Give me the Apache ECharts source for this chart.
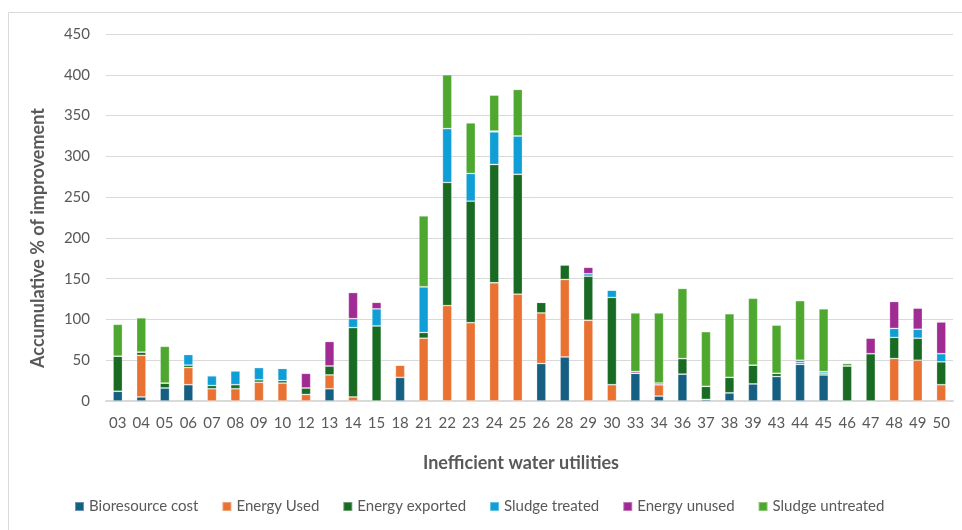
<!DOCTYPE html>
<html>
<head>
<meta charset="utf-8">
<script src="https://cdn.jsdelivr.net/npm/echarts@6/dist/echarts.min.js"></script>
<style>html,body{margin:0;padding:0;background:#fff}#c{width:962px;height:530px}</style>
</head>
<body>
<div id="c"></div>
<script>
var categories = ['03','04','05','06','07','08','09','10','12','13','14','15','18','21','22','23','24','25','26','28','29','30','33','34','36','37','38','39','43','44','45','46','47','48','49','50'];
var bioresourceCost = [12,5,16,20,0,0,0,0,0,15,0,0,29,0,0,0,0,0,46,54,0,0,34,6,33,2,10,21,30,45,32,0,0,0,0,0];
var energyUsed      = [0,51,0,21,15,15,23,22,8,17,5,0,15,77,117,96,145,131,62,95,99,20,0,14,0,0,0,0,0,0,0,0,0,52,50,20];
var energyExported  = [43,4,6,3,4,5,3,3,8,11,85,92,0,7,151,149,145,147,13,18,54,107,0,0,19,16,19,23,4,2,2,43,58,26,27,28];
var sludgeTreated   = [0,0,0,13,12,17,15,15,0,0,11,21,0,56,66,34,40,47,0,0,3,9,0,0,0,0,0,0,0,3,2,0,0,11,11,10];
var energyUnused    = [0,0,0,0,0,0,0,0,18,30,32,8,1,0,0,0,1,0,0,0,8,0,2,2,0,0,0,0,0,0,0,0,19,33,26,39];
var sludgeUntreated = [39,42,45,0,0,0,0,0,0,0,0,0,0,87,66,62,44,57,0,0,0,0,72,86,86,67,78,82,59,73,77,3,1,0,0,0];
var yTicks = {min:0, max:450, interval:50};

var FONT = 'Lato, "Open Sans", sans-serif';
var names = ['Bioresource cost','Energy Used','Energy exported','Sludge treated','Energy unused','Sludge untreated'];
var colors = ['#156082','#E97132','#196B24','#0F9ED5','#A02B93','#4EA72E'];
var datas = [bioresourceCost, energyUsed, energyExported, sludgeTreated, energyUnused, sludgeUntreated];

var chart = echarts.init(document.getElementById('c'), null, {renderer:'canvas'});
chart.setOption({
  animation:false,
  color: colors,
  grid:{left:106, right:9, top:34, bottom:129, containLabel:false},
  legend:{
    left:74, top:499, padding:0, itemWidth:9, itemHeight:9, itemGap:23, icon:'rect',
    textStyle:{color:'#595959', fontSize:15, fontFamily:FONT},
    data:names
  },
  graphic:[
    {type:'rect', shape:{x:8.5,y:12.5,width:1000,height:600}, style:{fill:'none', stroke:'#d9d9d9', lineWidth:1}, silent:true},
    {type:'text', x:38, y:238, rotation:Math.PI/2, style:{text:'Accumulative % of improvement', fill:'#595959', font:'bold 18px '+FONT, align:'center', verticalAlign:'middle'}},
    {type:'text', x:521, y:463, style:{text:'Inefficient water utilities', fill:'#595959', font:'bold 18px '+FONT, align:'center', verticalAlign:'middle'}}
  ],
  xAxis:{
    type:'category', data:categories,
    axisLine:{lineStyle:{color:'#d9d9d9', width:2}},
    axisTick:{show:false},
    axisLabel:{color:'#595959', fontSize:15, fontFamily:FONT, margin:15, interval:0}
  },
  yAxis:{
    type:'value', min:yTicks.min, max:yTicks.max, interval:yTicks.interval,
    axisLine:{show:false}, axisTick:{show:false},
    axisLabel:{color:'#595959', fontSize:15, fontFamily:FONT, margin:16},
    splitLine:{lineStyle:{color:'#d9d9d9', width:1}}
  },
  series: names.map(function(n,i){
    return {
      name:n, type:'bar', stack:'total', barWidth:'40%', data:datas[i],
      itemStyle:{color:colors[i], borderColor:'rgba(255,255,255,0.35)', borderWidth:0.8}
    };
  })
});
</script>
</body>
</html>
